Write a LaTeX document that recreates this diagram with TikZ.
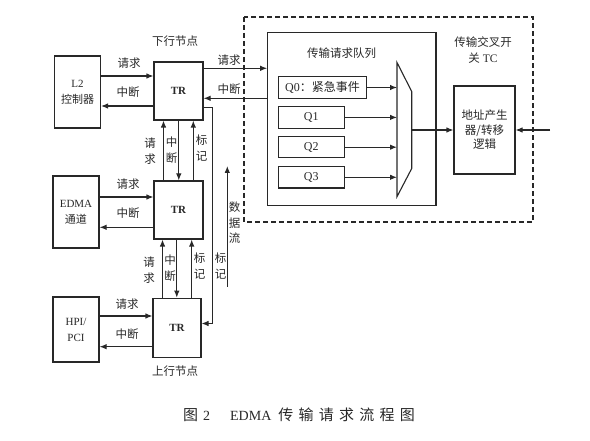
\documentclass[tikz,border=0pt]{standalone}
\usepackage{fontspec}
\setmainfont{Liberation Serif}
\newfontfamily\cjk{Noto Sans CJK SC}
\newfontfamily\cjkls{Noto Sans CJK SC}[LetterSpace=35]
\usetikzlibrary{arrows.meta}
\definecolor{ink}{RGB}{40,40,40}
\newcommand\lblfont{\cjk\fontsize{11.5}{13}\selectfont}
\newcommand\vfont{\cjk\fontsize{11.5}{15.5}\selectfont}
\begin{document}
\begin{tikzpicture}[x=1pt,y=-1pt,
  every node/.style={text=ink},
  box/.style={draw=ink, line width=1.1pt, inner sep=0pt, align=center},
  trbox/.style={box, minimum width=49pt, minimum height=58pt, font=\fontsize{11}{12}\selectfont\bfseries},
  srcbox/.style={box, minimum width=46pt, font=\fontsize{11}{16}\selectfont},
  qbox/.style={box, minimum height=21.5pt, font=\fontsize{12}{13}\selectfont},
  lbl/.style={inner sep=0pt, font=\lblfont},
  vlbl/.style={inner sep=0pt, align=center, font=\vfont},
  arr/.style={draw=ink, line width=1.1pt, -{Latex[length=7pt,width=5.5pt]}},
  ln/.style={draw=ink, line width=1.1pt}]
\fill[white] (0,0) rectangle (590,441);
\useasboundingbox (0,0) rectangle (590,441);

% dashed TC region
\draw[ln, dash pattern=on 5pt off 3pt] (244,17) rectangle (533,222);

% left source boxes
\node[srcbox, minimum height=72pt] (L2) at (77.5,92) {L2\\{\cjk 控制器}};
\node[srcbox, minimum height=72pt] (EDMA) at (76,212) {EDMA\\{\cjk 通道}};
\node[srcbox, minimum height=65pt] (HPI) at (76,329.5) {HPI/\\PCI};

% TR nodes
\node[trbox] (TR1) at (178.5,91) {TR};
\node[trbox] (TR2) at (178.5,210) {TR};
\node[trbox, minimum width=48pt, minimum height=59pt] (TR3) at (177,327.7) {TR};

\node[lbl] (down) at (175,40.7) {下行节点};
\node[lbl] (up) at (175,371) {上行节点};

% queue
\node[box, minimum width=168.3pt, minimum height=173.4pt] (queue) at (351.85,119) {};
\node[lbl] (qtitle) at (341.7,52.7) {传输请求队列};
\node[qbox, minimum width=88.4pt] (Q0) at (322.5,87.5) {Q0{\cjk ：紧急事件}};
\node[qbox, minimum width=65.7pt] (Q1) at (311.2,117.4) {Q1};
\node[qbox, minimum width=65.7pt] (Q2) at (311.2,147.2) {Q2};
\node[qbox, minimum width=65.7pt] (Q3) at (311.2,177.3) {Q3};

% mux
\coordinate (m1) at (397,62.5);
\coordinate (m2) at (411.7,91.5);
\coordinate (m3) at (411.7,168.5);
\coordinate (m4) at (397,196.7);
\draw[ln, line join=miter] (m1) -- (m2) -- (m3) -- (m4) -- cycle;

% address box
\node[box, minimum width=61pt, minimum height=88pt, font=\cjk\fontsize{11.5}{14.5}\selectfont] (addr) at (484.5,130) {地址产生\\器/转移\\逻辑};
\node[inner sep=0pt, align=center, font=\fontsize{11.5}{16.6}\selectfont] (tc) at (483,50) {{\cjk 传输交叉开}\\{\cjk 关}\ TC};

% queue arrows into mux
\draw[arr] (Q0.east) -- (Q0.east -| m1);
\draw[arr] (Q1.east) -- (Q1.east -| m1);
\draw[arr] (Q2.east) -- (Q2.east -| m1);
\draw[arr] (Q3.east) -- (Q3.east -| m1);
\draw[arr] (m2 |- addr.west) -- (addr.west);
\coordinate (ext) at (550,130);
\draw[arr] (ext) -- (addr.east);

% source <-> TR
\draw[arr] (L2.east |- 0,76) -- (TR1.west |- 0,76);
\draw[arr] (TR1.west |- 0,106) -- (L2.east |- 0,106);
\draw[arr] (EDMA.east |- 0,197) -- (TR2.west |- 0,197);
\draw[arr] (TR2.west |- 0,227.3) -- (EDMA.east |- 0,227.3);
\draw[arr] (HPI.east |- 0,316) -- (TR3.west |- 0,316);
\draw[arr] (TR3.west |- 0,346.7) -- (HPI.east |- 0,346.7);

\node[lbl] at (129,62.7) {请求};
\node[lbl] at (128,91.7) {中断};
\node[lbl] at (128,184) {请求};
\node[lbl] at (128,213) {中断};
\node[lbl] at (127,304) {请求};
\node[lbl] at (127,334) {中断};

% TR1 <-> queue
\draw[arr] (TR1.east |- 0,68.3) -- (queue.west |- 0,68.3);
\draw[arr] (queue.west |- 0,98.3) -- (TR1.east |- 0,98.3);
\node[lbl] at (229,60) {请求};
\node[lbl] at (229,89) {中断};

% vertical TR1 <-> TR2
\draw[arr] (TR2.north -| 163.5,0) -- (TR1.south -| 163.5,0);
\draw[arr] (TR1.south -| 178.8,0) -- (TR2.north -| 178.8,0);
\draw[arr] (TR2.north -| 193.3,0) -- (TR1.south -| 193.3,0);
\node[vlbl] at (150,151) {请\\求};
\node[vlbl] at (171.5,150) {中\\断};
\node[vlbl] at (201.7,148) {标\\记};

% vertical TR2 <-> TR3
\draw[arr] (TR3.north -| 162.5,0) -- (TR2.south -| 162.5,0);
\draw[arr] (TR2.south -| 176.8,0) -- (TR3.north -| 176.8,0);
\draw[arr] (TR3.north -| 191.7,0) -- (TR2.south -| 191.7,0);
\node[vlbl] at (149,270) {请\\求};
\node[vlbl] at (170,268) {中\\断};
\node[vlbl] at (199.5,266) {标\\记};

% marker line TR1 -> TR3
\draw[arr, line join=miter] (TR1.east |- 0,107.3) -- (212.3,107.3) -- (212.3,323.5) -- (TR3.east |- 0,323.5);
\node[vlbl] at (220.5,266) {标\\记};

% data flow
\coordinate (df0) at (227.3,287);
\coordinate (df1) at (227.3,166);
\draw[arr] (df0) -- (df1);
\node[vlbl] at (234.5,223) {数\\据\\流};

% caption
\node[inner sep=0pt, anchor=west, font=\fontsize{14}{16}\selectfont] (cap) at (183,415) {{\cjk\fontsize{15}{16}\selectfont 图}\hspace{5pt}2\hspace{20pt}EDMA\hspace{7pt}{\cjkls\fontsize{15}{16}\selectfont 传输请求流程图}};
\end{tikzpicture}
\end{document}
